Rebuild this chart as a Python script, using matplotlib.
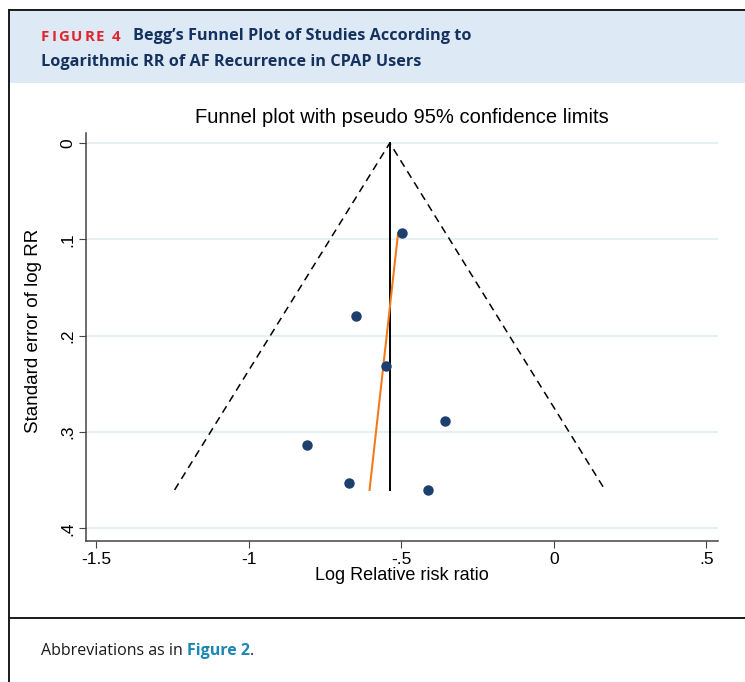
import matplotlib.pyplot as plt
from matplotlib.patches import Rectangle
from matplotlib.lines import Line2D

# study estimates
log_rr = [-0.498, -0.649, -0.551, -0.357, -0.810, -0.672, -0.413]
se_log_rr = [0.0934, 0.179, 0.231, 0.288, 0.313, 0.353, 0.360]
pooled = -0.538
# fitted line drawn in orange (x = a + b * se)
reg_a = -0.478
reg_b = -0.351

xticks = [-1.5, -1, -0.5, 0, 0.5]
xtick_labels = ['-1.5', '-1', '-.5', '0', '.5']
yticks = [0, 0.1, 0.2, 0.3, 0.4]
ytick_labels = ['0', '.1', '.2', '.3', '.4']

W, H = 745, 682
fig = plt.figure(figsize=(W / 100, H / 100), dpi=100)

def fx(px):
    return px / W

def fy(py):
    return 1 - py / H

# page decoration: header band, frame, caption divider
fig.patches.append(Rectangle((fx(9), fy(83)), 1, fy(10) - fy(83), transform=fig.transFigure,
                             facecolor='#dde9f5', edgecolor='none', zorder=-1))
for xs, ys in [([9, W], [10, 10]), ([9, 9], [10, H]), ([9, W], [618, 618])]:
    fig.lines.append(Line2D([fx(v) for v in xs], [fy(v) for v in ys], transform=fig.transFigure,
                            color='#1a1a1a', lw=1.4))

# main plot
ax = fig.add_axes([fx(86), fy(541), fx(718) - fx(86), fy(132.7) - fy(541)])
ax.set_xlim(-1.534, 0.538)
ax.set_ylim(0.413, -0.0107)

se_max = max(se_log_rr)
ax.grid(axis='y', color='#e2edf1', lw=1.2)
ax.set_axisbelow(True)
ax.plot([pooled - 1.96 * se_max, pooled, pooled + 1.96 * se_max], [se_max, 0, se_max],
        color='black', lw=1.1, dashes=(5, 3.5))
ax.plot([pooled, pooled], [0, se_max], color='black', lw=1.4)
se_lo = min(se_log_rr)
ax.plot([reg_a + reg_b * se_lo, reg_a + reg_b * se_max], [se_lo, se_max], color='#f07c1c', lw=1.5)
ax.plot(log_rr, se_log_rr, 'o', color='#1c3f6e', ms=6.5, zorder=5)

for s in ['top', 'right']:
    ax.spines[s].set_visible(False)
for s in ['left', 'bottom']:
    ax.spines[s].set_color('#444444')
    ax.spines[s].set_linewidth(1.1)

ax.set_xticks(xticks)
ax.set_xticklabels(xtick_labels, family='Liberation Sans', fontsize=12.5)
ax.set_yticks(yticks)
ax.set_yticklabels(ytick_labels, family='Liberation Sans', fontsize=12.5, rotation=90, va='center')
ax.tick_params(direction='out', length=5, color='#444444', pad=3)
ax.set_xlabel('Log Relative risk ratio', family='Liberation Sans', fontsize=13, labelpad=0)
ax.set_ylabel('Standard error of log RR', family='Liberation Sans', fontsize=13.5, labelpad=5)
ax.yaxis.set_label_coords(-0.07, 0.515)
ax.set_title('Funnel plot with pseudo 95% confidence limits', family='Liberation Sans',
             fontsize=14.5, pad=7)

# header: letter-spaced red label, then the title in navy
label = 'FIGURE 4'
prev = fig.text(fx(41), fy(41), label[0], color='#e2232b', fontsize=10.8, fontweight='bold',
                family='Open Sans', va='baseline')
for ch in label[1:]:
    prev = ax.annotate(ch, xy=(1, 0), xycoords=prev, xytext=(1.4, 0), textcoords='offset points',
                       va='bottom', ha='left', color='#e2232b', fontsize=10.8, fontweight='bold',
                       family='Open Sans', annotation_clip=False)
head_font = ['Liberation Sans Narrow', 'Open Sans']
ax.annotate("Begg\u2019s Funnel Plot of Studies According to", xy=(1, 0), xycoords=prev,
            xytext=(9, 0), textcoords='offset points',
            va='bottom', ha='left', color='#15325f', fontsize=11.7, fontweight='bold',
            family=head_font, annotation_clip=False)
fig.text(fx(41), fy(66), 'Logarithmic RR of AF Recurrence in CPAP Users', color='#15325f',
         fontsize=11.7, fontweight='bold', family=head_font, va='baseline')

c1 = fig.text(fx(41), fy(655), 'Abbreviations as in ', color='#1a1a1a', fontsize=11.5,
              family='Open Sans', va='baseline')
c2 = ax.annotate('Figure 2', xy=(1, 0), xycoords=c1, va='bottom', ha='left',
                 color='#1b87b5', fontsize=11.5, fontweight='bold', family='Open Sans',
                 annotation_clip=False)
ax.annotate('.', xy=(1, 0), xycoords=c2, va='bottom', ha='left',
            color='#1a1a1a', fontsize=11.5, family='Open Sans', annotation_clip=False)

fig.savefig('out.png', dpi=100)
